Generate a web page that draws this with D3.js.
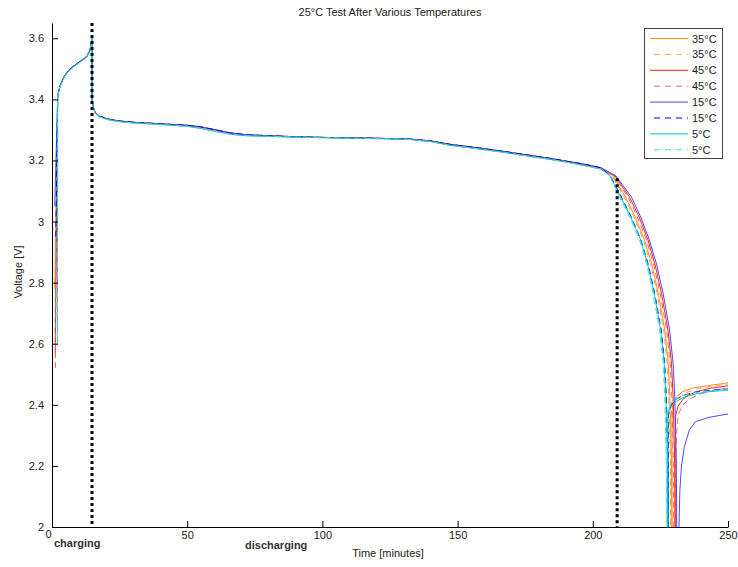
<!DOCTYPE html>
<html><head><meta charset="utf-8">
<script src="https://cdn.jsdelivr.net/npm/d3@7"></script>
<style>
body{margin:0;background:#fff;}
svg text{font-family:"Liberation Sans",Arial,sans-serif;}
</style></head><body>
<svg id="chart" width="738" height="567"></svg>
<script>
// ---------- DATA ----------
const seriesLabels = ["35°C","35°C","45°C","45°C","15°C","15°C","5°C","5°C"];
const xTicks = [0, 50, 100, 150, 200, 250];
const yTicks = [2, 2.2, 2.4, 2.6, 2.8, 3, 3.2, 3.4, 3.6];
const yTickLabels = ["2","2.2","2.4","2.6","2.8","3","3.2","3.4","3.6"];

// charging start points per series
const startTimes = [1.0, 1.1, 1.2, 1.25, 1.0, 1.4, 2.0, 2.05];
const startVolts = [2.78, 2.60, 2.56, 2.52, 3.05, 2.95, 2.60, 2.62];

// shared time grid for charging + main discharge plateau (minutes)
const headTimes = [2.1, 2.6, 3.1, 4.2, 5.5, 6.8, 8.0, 9.3, 10.5, 11.8, 13.0, 14.1, 14.75, 14.8, 15.3, 16.0, 17.5, 21, 25, 30, 40, 50, 55, 60, 66, 72, 80, 92, 103, 118, 132, 140, 147, 156, 166, 175, 184, 190, 196, 203];
const plateauA = [3.41, 3.43, 3.445, 3.468, 3.486, 3.497, 3.507, 3.515, 3.523, 3.531, 3.54, 3.56, 3.60, 3.40, 3.37, 3.355, 3.343, 3.333, 3.327, 3.323, 3.318, 3.312, 3.305, 3.296, 3.286, 3.281, 3.279, 3.276, 3.274, 3.272, 3.269, 3.262, 3.250, 3.240, 3.228, 3.216, 3.204, 3.195, 3.185, 3.172];
const plateauB = [3.41, 3.432, 3.447, 3.47, 3.488, 3.499, 3.509, 3.517, 3.525, 3.533, 3.542, 3.562, 3.60, 3.40, 3.372, 3.357, 3.345, 3.335, 3.329, 3.325, 3.32, 3.315, 3.31, 3.301, 3.29, 3.284, 3.281, 3.277, 3.275, 3.273, 3.27, 3.264, 3.253, 3.243, 3.231, 3.219, 3.207, 3.198, 3.189, 3.176];

// end-of-discharge knee: shared voltages, per-series times
const tailVolts = [3.15, 3.08, 3.015, 2.94, 2.863, 2.765, 2.645, 2.536, 2.427, 2.208, 1.90];
const tail35s = [207.4, 212.1, 215.7, 219.1, 221.7, 224.2, 226.6, 227.9, 228.5, 229.1, 229.3];
const tail35d = [207.1, 211.7, 215.2, 218.7, 221.3, 223.8, 226.2, 227.5, 228.1, 228.7, 228.9];
const tail45s = [208.2, 213.6, 217.1, 220.4, 222.9, 225.4, 227.8, 229.1, 229.7, 230.3, 230.5];
const tail45d = [207.8, 213.0, 216.5, 219.8, 222.4, 224.9, 227.3, 228.6, 229.2, 229.8, 230.0];
const tail15s = [208.5, 214.3, 217.7, 220.9, 223.5, 226.0, 228.4, 229.7, 230.3, 230.9, 231.1];
const tail15d = [206.5, 210.6, 214.2, 217.8, 220.4, 222.9, 225.3, 226.6, 227.2, 227.8, 228.0];
const tail5s  = [206.4, 210.3, 214.0, 217.7, 220.2, 222.7, 225.1, 226.4, 227.0, 227.6, 227.8];
const tail5d  = [206.2, 209.9, 213.6, 217.3, 219.8, 222.3, 224.7, 226.0, 226.6, 227.2, 227.4];

// relaxation after cut-off
const recT35s = [229.3, 229.8, 231, 233.2, 236.9, 242, 250];
const recV35s = [2.38, 2.405, 2.427, 2.443, 2.455, 2.462, 2.472];
const recT35d = [228.9, 230.2, 232.3, 234.6, 238.4, 243.5, 250];
const recV35d = [2.37, 2.405, 2.425, 2.44, 2.452, 2.46, 2.468];
const recT45s = [230.5, 231.5, 233.3, 235.5, 239, 244, 250];
const recV45s = [2.36, 2.395, 2.418, 2.432, 2.445, 2.455, 2.462];
const recT45d = [230.1, 230.5, 230.9, 231.5, 233.3, 236, 240, 245, 250];
const recV45d = [1.9, 2.15, 2.285, 2.367, 2.40, 2.42, 2.436, 2.448, 2.456];
const recT15s = [231.6, 232.2, 232.8, 233.8, 235.7, 238, 243, 250];
const recV15s = [1.9, 2.12, 2.2, 2.26, 2.318, 2.345, 2.359, 2.37];
const recT15d = [228.0, 229, 231, 234, 238, 244, 250];
const recV15d = [2.37, 2.40, 2.42, 2.432, 2.442, 2.448, 2.452];
const recT5s  = [227.8, 229, 231, 234, 238, 243, 250];
const recV5s  = [2.377, 2.398, 2.412, 2.426, 2.436, 2.443, 2.448];
const recT5d  = [227.4, 228.5, 230.5, 233.3, 237.6, 244, 250];
const recV5d  = [2.37, 2.40, 2.418, 2.43, 2.44, 2.446, 2.45];

// phase markers
const markerTimes = [14.8, 209];
const markerTopVolts = [3.65, 3.142];
const phaseLabels = ["charging", "discharging"];

// ---------- STYLE ----------
const colors = ["#ff9020","#ffa040","#ff2020","#ff6464","#4a4aff","#0000dd","#00c4c4","#40e0e0"];
const dashed = [false,true,false,true,false,true,false,true];
const plateauOf = [plateauB, plateauA, plateauB, plateauA, plateauB, plateauB, plateauA, plateauA];
const tailsOf = [tail35s, tail35d, tail45s, tail45d, tail15s, tail15d, tail5s, tail5d];
const recTOf = [recT35s, recT35d, recT45s, recT45d, recT15s, recT15d, recT5s, recT5d];
const recVOf = [recV35s, recV35d, recV45s, recV45d, recV15s, recV15d, recV5s, recV5d];

const svg = d3.select("#chart");
const L = 52, R = 728, T = 23, B = 527;
const x = d3.scaleLinear().domain([0, 250]).range([L, R]);
const y = d3.scaleLinear().domain([2, 3.65]).range([B, T]);

svg.append("defs").append("clipPath").attr("id","clip")
  .append("rect").attr("x", L).attr("y", T).attr("width", R - L).attr("height", B - T);

// build series
const series = seriesLabels.map((lab, i) => {
  const pts = [[startTimes[i], startVolts[i]]];
  headTimes.forEach((t, k) => pts.push([t, plateauOf[i][k]]));
  tailsOf[i].forEach((t, k) => pts.push([t, tailVolts[k]]));
  recTOf[i].forEach((t, k) => pts.push([t, recVOf[i][k]]));
  return {label: lab, pts, color: colors[i], dashed: dashed[i]};
});

const line = d3.line().x(d => x(d[0])).y(d => y(d[1]));
const g = svg.append("g").attr("clip-path","url(#clip)");
series.forEach(s => {
  g.append("path").attr("d", line(s.pts)).attr("fill","none")
    .attr("stroke", s.color).attr("stroke-width", 1)
    .attr("stroke-dasharray", s.dashed ? "6,4" : null);
});

// dotted phase markers
markerTimes.forEach((t, i) => {
  g.append("line").attr("x1", x(t)).attr("x2", x(t))
    .attr("y1", y(markerTopVolts[i])).attr("y2", y(2))
    .attr("stroke","#000").attr("stroke-width",3).attr("stroke-dasharray","3,3");
});

// axes
const xAxis = d3.axisBottom(x).tickValues(xTicks).tickSizeInner(-6).tickSizeOuter(0).tickPadding(4);
const yAxis = d3.axisLeft(y).tickValues(yTicks).tickFormat((d, i) => yTickLabels[i]).tickSizeInner(-6).tickSizeOuter(0).tickPadding(8);
const gx = svg.append("g").attr("transform", `translate(0,${B})`).call(xAxis);
const gy = svg.append("g").attr("transform", `translate(${L},0)`).call(yAxis);
[gx, gy].forEach(a => {
  a.select(".domain").attr("stroke","#000");
  a.selectAll(".tick line").attr("stroke","#000");
  a.selectAll("text").attr("font-size", 11).attr("fill","#222").attr("font-family","Liberation Sans, Arial, sans-serif");
});
// first x tick label sits just left of the origin, clear of the "charging" note
gx.selectAll(".tick text").filter(d => d === 0).attr("dx", -4).attr("dy", "0.6em");

// phase labels
svg.append("text").attr("x", 54).attr("y", 547).attr("font-size", 11).attr("font-weight","bold")
  .attr("fill","#333").text(phaseLabels[0]);
svg.append("text").attr("x", 245).attr("y", 549).attr("font-size", 11).attr("font-weight","bold")
  .attr("fill","#333").text(phaseLabels[1]);

// titles
svg.append("text").attr("x", (L + R) / 2).attr("y", 16).attr("text-anchor","middle")
  .attr("font-size", 11).attr("fill","#222").text("25°C Test After Various Temperatures");
svg.append("text").attr("x", 388).attr("y", 557).attr("text-anchor","middle")
  .attr("font-size", 11).attr("fill","#222").text("Time [minutes]");
svg.append("text").attr("transform", "translate(22,272) rotate(-90)").attr("text-anchor","middle")
  .attr("font-size", 11).attr("fill","#222").text("Voltage [V]");

// legend
const lg = svg.append("g");
lg.append("rect").attr("x", 644.5).attr("y", 28.5).attr("width", 78).attr("height", 130)
  .attr("fill","#fff").attr("stroke","#444").attr("stroke-width",1);
series.forEach((s, i) => {
  const yy = 38.5 + i * 15.9;
  lg.append("line").attr("x1", s.dashed ? 654 : 650).attr("x2", 688).attr("y1", yy).attr("y2", yy)
    .attr("stroke", s.color).attr("stroke-width", 1)
    .attr("stroke-dasharray", s.dashed ? "6,5" : null);
  lg.append("text").attr("x", 692).attr("y", yy + 4).attr("font-size", 11).attr("fill","#222").text(s.label);
});
</script>
</body></html>
